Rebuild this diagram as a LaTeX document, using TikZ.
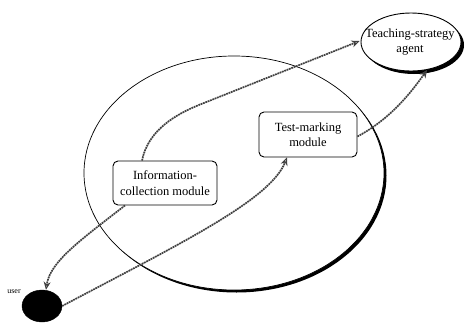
\documentclass[tikz,border=0pt]{standalone}
\usepackage{fontspec}
\setmainfont{Liberation Serif}
\usetikzlibrary{shapes.geometric,arrows.meta,calc}
\begin{document}
\begin{tikzpicture}[x=1pt,y=-1pt,
  lbl/.style={font=\fontsize{12.5}{15.5}\selectfont,align=center,inner sep=0},
  modbox/.style={draw,line width=0.9pt,rounded corners=5pt,fill=white,minimum width=#1,minimum height=44pt,inner sep=0},
  flow/.style={draw=black!75,line width=1.7pt,dash pattern=on 1.8pt off 0.7pt,
    -{Stealth[open,length=8pt,width=7pt,line width=1.1pt,sep=0pt]}},
  shadowed/.style={draw,fill=white,line width=0.7pt}]
\useasboundingbox (0,0) rectangle (467,327);
% big ellipse with shadow
\fill (236.5,175.5) ellipse [x radius=150, y radius=117];
\node (big) [ellipse,shadowed,inner sep=0,minimum width=300pt,minimum height=234pt] at (234,173) {};
% teaching agent
\fill (414,45) ellipse [x radius=50, y radius=29];
\node (agent) [ellipse,shadowed,line width=0.9pt,inner sep=0,minimum width=100pt,minimum height=58pt] at (411,42) {};
\node (agenttext) [lbl] at (410,42) {Teaching-strategy\\agent};
% user
\node (user) [ellipse,fill=black,draw,inner sep=0,minimum width=40pt,minimum height=32pt] at (42,306) {};
\node (usertext) [font=\fontsize{8}{9}\selectfont,inner sep=0] at (14,292) {user};
% modules
\node (tm) [modbox=98pt,minimum height=45pt,lbl] at (308,134.5) {Test-marking\\module};
\node (ic) [modbox=104pt,lbl] at (165,183) {Information-\\collection module};
% connectors
\draw[flow] ([xshift=-23pt]ic.north) .. controls +(6,-30) and +(-25,10) .. ($(ic.north)+(35,-56)$) -- ([xshift=-1pt,yshift=1pt]agent.west);
\draw[flow] ([xshift=-40pt]ic.south) .. controls +(-45,35) and +(4,-28) .. ([xshift=4pt]user.north);
\draw[flow] (user.east) .. controls +(117,-62) and +(-17,43) .. ([xshift=-21pt]tm.south);
\draw[flow] ([yshift=-2pt]tm.east) .. controls +(32,-17) and +(-17,24) .. (agent.-60);
\end{tikzpicture}
\end{document}
